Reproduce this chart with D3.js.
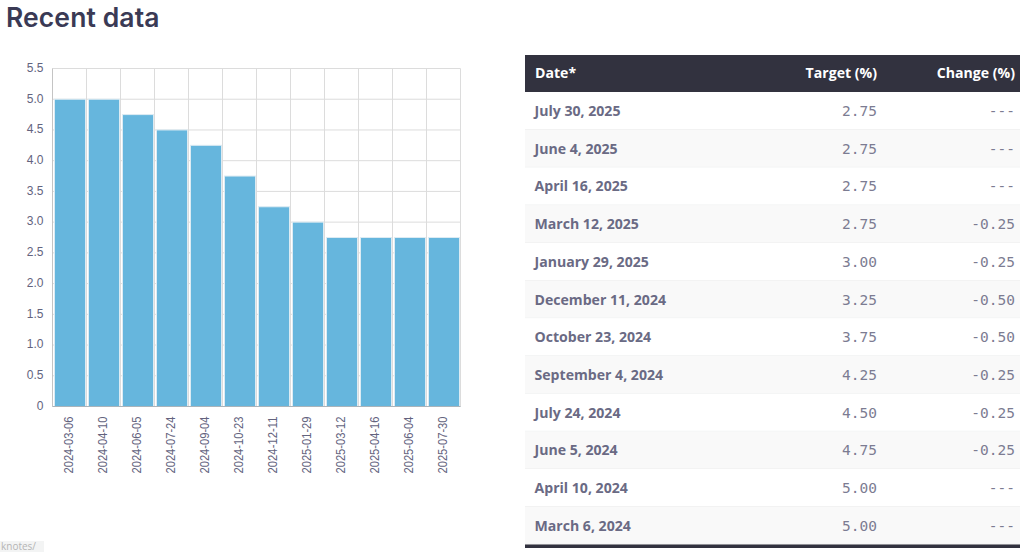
<!DOCTYPE html>
<html lang="en">
<head>
  <meta charset="UTF-8">
  <title>Recent data</title>
  <style>
    body { margin: 0; padding: 0; background: #fff; overflow: hidden; }
    svg { display: block; }
    .title { font: 600 26.5px Inter, 'Open Sans', sans-serif; fill: #3a3a55; letter-spacing: 0.1px; }
    .axis text { font: 12px 'Liberation Sans', Arial, sans-serif; fill: #63637e; }
    .axis path, .axis line { stroke: none; }
    .grid line { stroke: #dcdcdc; stroke-width: 1px; }
    .bar { fill: #66b6dd; stroke: #dcebf3; stroke-width: 1px; }
    .th { font: 700 14.1px 'Open Sans', sans-serif; fill: #fff; }
    .date { font: 700 14.1px 'Open Sans', sans-serif; fill: #6a6a84; }
    .num { font: 14.5px 'DejaVu Sans Mono', monospace; fill: #7c7c92; }
    .note { font: 10px 'Open Sans', sans-serif; fill: #b5b5b5; }
  </style>
</head>
<body>
  <svg width="1024" height="552"></svg>

  <script src="https://d3js.org/d3.v7.min.js"></script>
  <script>
    // chart values, oldest first
    const chartDates = ["2024-03-06", "2024-04-10", "2024-06-05", "2024-07-24", "2024-09-04", "2024-10-23",
      "2024-12-11", "2025-01-29", "2025-03-12", "2025-04-16", "2025-06-04", "2025-07-30"];
    const chartTargets = [5, 5, 4.75, 4.5, 4.25, 3.75, 3.25, 3, 2.75, 2.75, 2.75, 2.75];
    const yTicks = [0, 0.5, 1, 1.5, 2, 2.5, 3, 3.5, 4, 4.5, 5, 5.5];

    // table rows, newest first
    const tableHeaders = ["Date*", "Target (%)", "Change (%)"];
    const tableDates = ["July 30, 2025", "June 4, 2025", "April 16, 2025", "March 12, 2025", "January 29, 2025",
      "December 11, 2024", "October 23, 2024", "September 4, 2024", "July 24, 2024", "June 5, 2024",
      "April 10, 2024", "March 6, 2024"];
    const tableTargets = ["2.75", "2.75", "2.75", "2.75", "3.00", "3.25", "3.75", "4.25", "4.50", "4.75", "5.00", "5.00"];
    const tableChanges = ["---", "---", "---", "-0.25", "-0.25", "-0.50", "-0.50", "-0.25", "-0.25", "-0.25", "---", "---"];

    const svg = d3.select("svg");

    svg.append("text").attr("class", "title").attr("x", 6).attr("y", 27).text("Recent data");

    // chart
    const plotLeft = 52.5, plotRight = 460.5, plotTop = 68.5, plotBottom = 406.5;

    const x = d3.scaleBand().domain(chartDates).range([plotLeft, plotRight]);
    const y = d3.scaleLinear().domain([0, 5.5]).range([plotBottom, plotTop]);

    const grid = svg.append("g").attr("class", "grid");
    grid.selectAll(".h").data(yTicks).enter().append("line")
      .attr("x1", plotLeft).attr("x2", plotRight)
      .attr("y1", d => y(d)).attr("y2", d => y(d));
    grid.selectAll(".v").data(chartDates).enter().append("line")
      .attr("y1", plotTop).attr("y2", plotBottom)
      .attr("x1", d => x(d)).attr("x2", d => x(d));
    grid.append("line").attr("x1", plotRight).attr("x2", plotRight).attr("y1", plotTop).attr("y2", plotBottom);
    grid.append("line").attr("x1", plotLeft).attr("x2", plotLeft).attr("y1", plotTop).attr("y2", plotBottom).style("stroke", "#c4c4c4");

    svg.selectAll(".bar").data(chartDates).enter().append("rect")
      .attr("class", "bar")
      .attr("x", d => x(d) + 2)
      .attr("width", x.bandwidth() - 3)
      .attr("y", (d, i) => y(chartTargets[i]))
      .attr("height", (d, i) => plotBottom - y(chartTargets[i]));

    svg.append("line").attr("x1", plotLeft).attr("x2", plotRight).attr("y1", plotBottom).attr("y2", plotBottom)
      .style("stroke", "#a9b4bb");

    svg.append("g").attr("class", "axis")
      .attr("transform", `translate(${plotLeft},-1)`)
      .call(d3.axisLeft(y).tickValues(yTicks).tickSize(0).tickPadding(9)
        .tickFormat(d => d === 0 ? "0" : d3.format(".1f")(d)));

    svg.append("g").attr("class", "axis")
      .attr("transform", `translate(-1,${plotBottom})`)
      .call(d3.axisBottom(x).tickSize(0).tickPadding(0))
      .selectAll("text")
      .attr("transform", "rotate(-90)")
      .attr("text-anchor", "end")
      .attr("x", -10)
      .attr("y", 0)
      .attr("dy", "0.35em")
      .attr("textLength", 57)
      .attr("lengthAdjust", "spacingAndGlyphs");

    // table
    const tableLeft = 525, tableRight = 1020, headTop = 55, headBottom = 92, rowH = 37.7;
    const colTarget = 877, colChange = 1015;
    const rowY = d3.scaleLinear().domain([0, tableDates.length]).range([headBottom, headBottom + rowH * tableDates.length]);

    svg.append("rect").attr("x", tableLeft).attr("y", headTop)
      .attr("width", tableRight - tableLeft).attr("height", headBottom - headTop).attr("fill", "#32323f");
    svg.append("text").attr("class", "th").attr("x", 535).attr("y", 78).text(tableHeaders[0]);
    svg.append("text").attr("class", "th").attr("x", colTarget).attr("y", 78).attr("text-anchor", "end").text(tableHeaders[1]);
    svg.append("text").attr("class", "th").attr("x", colChange).attr("y", 78).attr("text-anchor", "end").text(tableHeaders[2]);

    const rows = svg.selectAll(".row").data(tableDates).enter().append("g").attr("class", "row");
    rows.append("rect")
      .attr("x", tableLeft).attr("width", tableRight - tableLeft)
      .attr("y", (d, i) => rowY(i)).attr("height", rowH)
      .attr("fill", (d, i) => i % 2 ? "#f9f9f9" : "#fff");
    rows.append("line")
      .attr("x1", tableLeft).attr("x2", tableRight)
      .attr("y1", (d, i) => rowY(i + 1)).attr("y2", (d, i) => rowY(i + 1))
      .attr("stroke", "#eceded");
    rows.append("text").attr("class", "date").attr("x", 534.5)
      .attr("y", (d, i) => rowY(i) + 24).text(d => d);
    rows.append("text").attr("class", "num").attr("x", colTarget).attr("text-anchor", "end")
      .attr("y", (d, i) => rowY(i) + 24).text((d, i) => tableTargets[i]);
    rows.append("text").attr("class", "num").attr("x", colChange).attr("text-anchor", "end")
      .attr("y", (d, i) => rowY(i) + 24).text((d, i) => tableChanges[i]);

    svg.append("rect").attr("x", tableLeft).attr("y", 544.5)
      .attr("width", tableRight - tableLeft).attr("height", 3.5).attr("fill", "#32323f");

    // cut off link tooltip, bottom left
    svg.append("rect").attr("x", 0).attr("y", 541).attr("width", 44).attr("height", 11).attr("fill", "#f3f4f4");
    svg.append("text").attr("class", "note").attr("x", 1).attr("y", 550).text("knotes/");
  </script>
</body>
</html>
